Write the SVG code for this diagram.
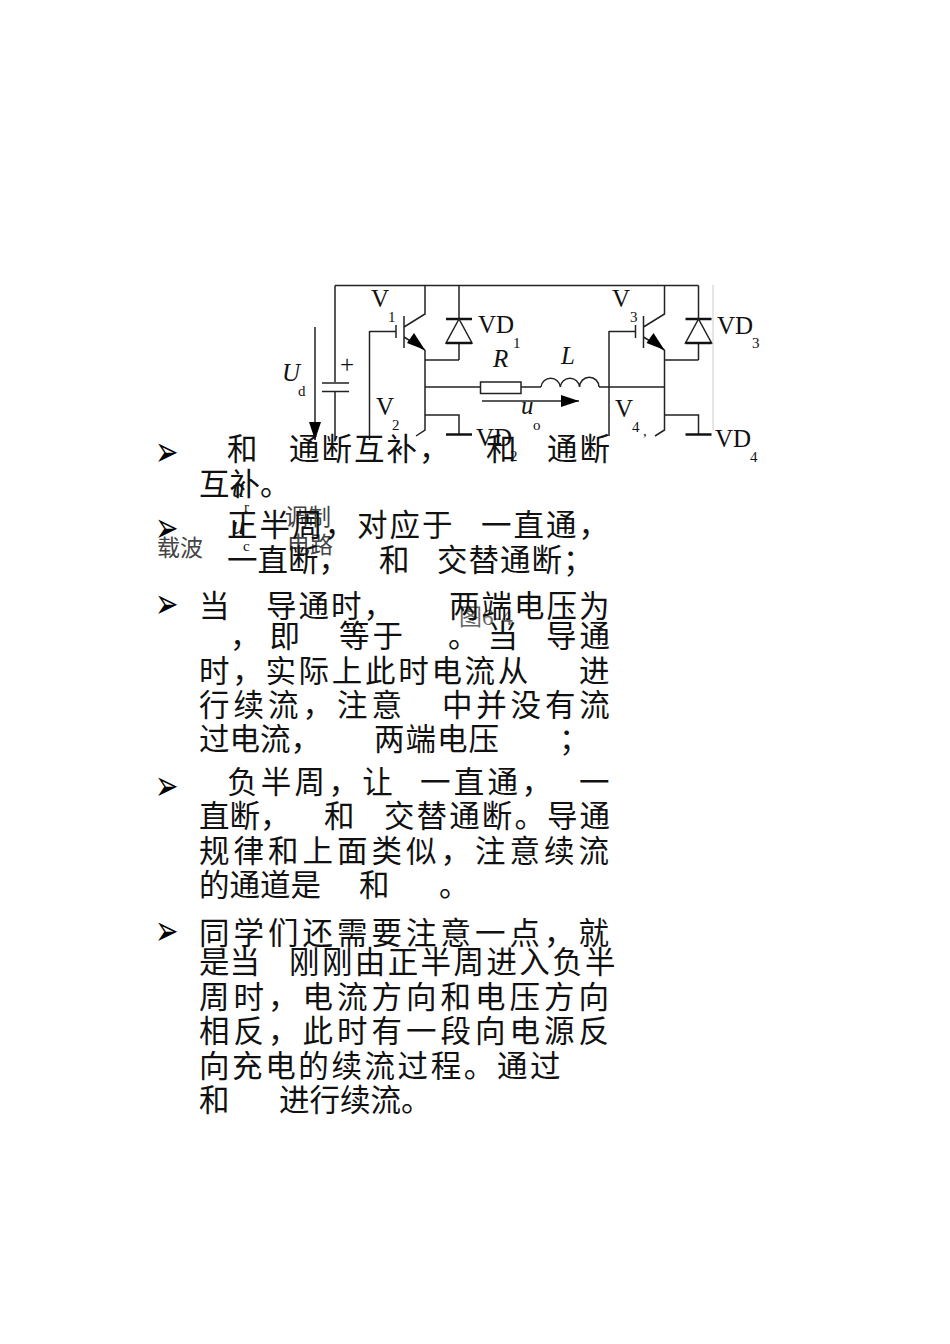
<svg xmlns="http://www.w3.org/2000/svg" width="950" height="1344" viewBox="0 0 950 1344">
<style>
.w{fill:none;stroke:#222;stroke-width:1.5}
.b{fill:none;stroke:#111;stroke-width:2.5}
.s{font-family:"Liberation Serif",serif;fill:#111;font-size:25px}
.i{font-style:italic}
.sub{font-size:15px}
.c{font-family:"Noto Sans CJK SC",sans-serif;font-size:30.500px;fill:#111;font-weight:400}
.g{font-family:"Noto Sans CJK SC",sans-serif;font-size:23px;fill:#444;font-weight:400}
.a{font-family:"DejaVu Sans",sans-serif;font-size:28px;fill:#000}
</style>
<defs>
<marker id="ah" markerUnits="userSpaceOnUse" markerWidth="20" markerHeight="12" refX="18" refY="6" orient="auto"><path d="M0 0L18 6L0 12Z" fill="#000"/></marker>
<g id="igbt">
<path class="w" d="M0 0V29L-21 42M-21 31V63M-29 40V53M-29 46.500H-55.500M-21 52L0 65"/>
<path d="M-11 48L0 65L-18 58Z" fill="#000"/>
</g>
</defs>
<rect width="950" height="1344" fill="#fff"/>
<g id="connectors">
<path class="w" d="M335 285.500H698.500M335 285.500V382M335 392V440"/>
<path class="w" d="M322 383H349M322 391.500H349"/>
<path class="w" d="M315 327V440" marker-end="url(#ah)"/>
<path class="w" d="M425 350V430L416 436M425 360H459M459 285.500V319M459 343V360M425 387H480"/>
<path class="w" d="M425 415H459V434"/>
<path class="w" d="M369.500 331V440"/>
<path class="w" d="M521 387H541M599 387H664.500"/>
<path class="w" d="M664.500 350V430L655 436M664.500 360H698.500M698.500 285.500V319M698.500 343V360"/>
<path class="w" d="M664.500 415H698.500V434"/>
<path class="w" d="M609 331V436"/>
<path d="M713 285V430" fill="none" stroke="#ddd" stroke-width="1.500"/>
<path class="w" d="M482 401H579" marker-end="url(#ah)"/>
</g>
<g id="v1"><use href="#igbt" x="425" y="285"/><text class="s" x="371" y="307">V</text><text class="s sub" x="388" y="322">1</text></g>
<g id="v2"><text class="s" x="376" y="415">V</text><text class="s sub" x="392" y="430">2</text></g>
<g id="v3"><use href="#igbt" x="664.500" y="285"/><text class="s" x="612" y="307">V</text><text class="s sub" x="630" y="322">3</text></g>
<g id="v4"><text class="s" x="615" y="417">V</text><text class="s sub" x="632" y="432">4</text><text class="s sub" x="643" y="436">,</text></g>
<g id="vd1"><path class="b" d="M446 319H472"/><path class="w" d="M459 319L446 343H472Z"/><path class="b" d="M446 343H472"/><text class="s" x="478" y="333">VD</text><text class="s sub" x="513" y="348">1</text></g>
<g id="vd2"><path class="b" d="M446 434.500H472"/><text class="s" x="476" y="446">VD</text><text class="s sub" x="510" y="461">2</text></g>
<g id="vd3"><path class="b" d="M685.500 319H711.500"/><path class="w" d="M698.500 319L685.500 343H711.500Z"/><path class="b" d="M685.500 343H711.500"/><text class="s" x="717" y="334">VD</text><text class="s sub" x="752" y="348">3</text></g>
<g id="vd4"><path class="b" d="M685.500 434.500H711.500"/><text class="s" x="715" y="447">VD</text><text class="s sub" x="750" y="462">4</text></g>
<g id="r"><rect class="w" x="480.500" y="382" width="40.500" height="11.500"/><text class="s i" x="493" y="367">R</text></g>
<g id="l"><path class="w" d="M541 387A9.700 9.700 0 0 1 560.300 387A9.700 9.700 0 0 1 579.600 387A9.700 9.700 0 0 1 599 387"/><text class="s i" x="561" y="364">L</text></g>
<g id="cap"><text class="s" x="340" y="373">+</text><text class="s i" x="282" y="381">U</text><text class="s sub" x="298" y="396">d</text></g>
<g id="uo"><text class="s i" x="521" y="414">u</text><text class="s sub" x="533" y="430">o</text></g>
<g id="lower">
<text class="g" x="157" y="556">载波</text>
<text class="g" x="285" y="525">调制</text>
<text class="g" x="287" y="553">电路</text>
<text class="s i" x="232" y="497">u</text><text class="s sub" x="244" y="512">r</text>
<text class="s i" x="232" y="534">u</text><text class="s sub" x="243" y="551">c</text>
<text x="459" y="625" font-family="'Liberation Serif','Noto Sans CJK SC',serif" fill="#666" font-size="23">图6-4</text>
</g>
<g id="bullets">
<text class="a" transform="translate(155 466) scale(1 1.500)">➢</text>
<text class="a" transform="translate(155 542) scale(1 1.500)">➢</text>
<text class="a" transform="translate(155 618) scale(1 1.500)">➢</text>
<text class="a" transform="translate(155 800) scale(1 1.500)">➢</text>
<text class="a" transform="translate(155 945) scale(1 1.500)">➢</text>
</g>
<g id="body" transform="translate(-1 0)">
<text class="c" x="228" y="460">和</text><text class="c" x="290" y="460" letter-spacing="2">通断互补，</text><text class="c" x="487" y="460">和</text><text class="c" x="548" y="460" letter-spacing="2">通断</text>
<text class="c" x="200" y="495">互补。</text>
<text class="c" x="228" y="536" letter-spacing="2">正半周，</text><text class="c" x="358" y="536" letter-spacing="2">对应于</text><text class="c" x="482" y="536" letter-spacing="2">一直通，</text>
<text class="c" x="228" y="571">一直断，</text><text class="c" x="380" y="571">和</text><text class="c" x="438" y="571" letter-spacing="1">交替通断；</text>
<text class="c" x="200" y="617">当</text><text class="c" x="267" y="617" letter-spacing="2">导通时，</text><text class="c" x="450" y="617" letter-spacing="2">两端电压为</text>
<text class="c" x="231" y="647" letter-spacing="9">，即</text><text class="c" x="340" y="647" letter-spacing="3">等于</text><text class="c" x="449" y="647" letter-spacing="9">。当</text><text class="c" x="547" y="647" letter-spacing="3">导通</text>
<text class="c" x="200" y="682" letter-spacing="2.700">时，实际上此时电流从</text><text class="c" x="580" y="682">进</text>
<text class="c" x="200" y="716" letter-spacing="4">行续流，注意</text><text class="c" x="443" y="716" letter-spacing="3.800">中并没有流</text>
<text class="c" x="200" y="750">过电流，</text><text class="c" x="375" y="750" letter-spacing="1">两端电压</text><text class="c" x="560" y="750">；</text>
<text class="c" x="228" y="793" letter-spacing="3.300">负半周，让</text><text class="c" x="421" y="793" letter-spacing="3.300">一直通，</text><text class="c" x="580" y="793">一</text>
<text class="c" x="200" y="827">直断，</text><text class="c" x="325" y="827">和</text><text class="c" x="385" y="827" letter-spacing="2.100">交替通断。导通</text>
<text class="c" x="200" y="862" letter-spacing="4">规律和上面类似，注意续流</text>
<text class="c" x="200" y="896">的通道是</text><text class="c" x="360" y="896">和</text><text class="c" x="440" y="896">。</text>
<text class="c" x="200" y="944" letter-spacing="4">同学们还需要注意一点，就</text>
<text class="c" x="200" y="973">是当</text><text class="c" x="290" y="973" letter-spacing="2.400">刚刚由正半周进入负半</text>
<text class="c" x="200" y="1008" letter-spacing="4">周时，电流方向和电压方向</text>
<text class="c" x="200" y="1042" letter-spacing="4">相反，此时有一段向电源反</text>
<text class="c" x="200" y="1077" letter-spacing="2.600">向充电的续流过程。通过</text>
<text class="c" x="200" y="1111">和</text><text class="c" x="280" y="1111">进行续流。</text>
</g>
</svg>
